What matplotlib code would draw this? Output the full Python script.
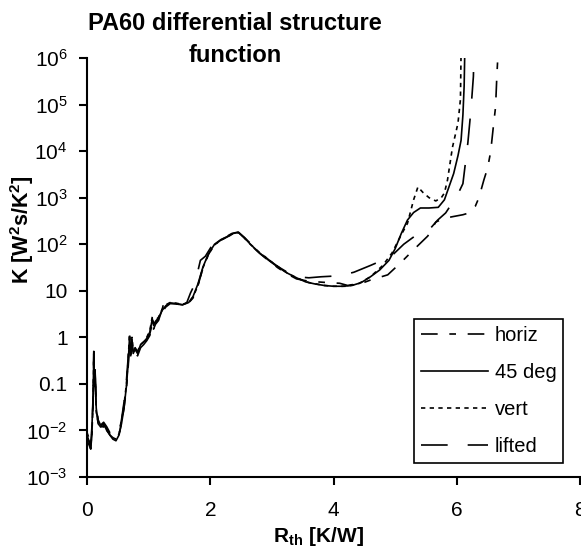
import matplotlib
matplotlib.use("Agg")
import matplotlib.pyplot as plt
from matplotlib.ticker import NullLocator

plt.rcParams['font.family'] = ['Liberation Sans', 'DejaVu Sans']

# horiz (dash-dot)
x_horiz = [0.00, 0.03, 0.06, 0.08, 0.10, 0.11, 0.12, 0.13, 0.15, 0.18, 0.22, 0.27, 0.32, 0.37, 0.42,
           0.47, 0.52, 0.56, 0.60, 0.64, 0.67, 0.69, 0.71, 0.73, 0.75, 0.78, 0.82, 0.87, 0.92, 0.97,
           1.02, 1.06, 1.08, 1.11, 1.16, 1.22, 1.28, 1.35, 1.45, 1.55, 1.65, 1.72, 1.80, 1.88, 1.97,
           2.07, 2.17, 2.27, 2.37, 2.46, 2.55, 2.65, 2.80, 2.95, 3.10, 3.25, 3.40, 3.60, 3.90, 4.10,
           4.23, 4.49, 4.60, 4.88, 5.09, 5.30, 5.53, 5.66, 5.80, 5.93, 6.10, 6.20, 6.30, 6.36, 6.44,
           6.50, 6.55, 6.60, 6.63, 6.65, 6.67]
k_horiz = [0.007, 0.006, 0.004, 0.01, 0.05, 0.3, 0.1, 0.15, 0.03, 0.016, 0.011, 0.013, 0.011, 0.008, 0.007,
           0.0065, 0.008, 0.015, 0.03, 0.08, 0.25, 0.8, 0.35, 0.7, 0.4, 0.6, 0.5, 0.65, 0.75, 0.9,
           1.2, 2.0, 1.6, 2.0, 2.4, 3.5, 4.5, 5.3, 5.2, 5.0, 5.5, 7.0, 13, 30, 60,
           98, 122, 142, 168, 178, 138, 98, 64, 44, 31, 23, 18, 16, 15, 14.5,
           13, 15, 17, 22, 40, 76, 150, 300, 360, 390, 430, 470, 650, 1000, 2400,
           4300, 9600, 40000, 89000, 390000, 1.3e6]

# 45 deg (solid)
x_45 = [0.00, 0.03, 0.06, 0.08, 0.10, 0.11, 0.12, 0.13, 0.15, 0.18, 0.22, 0.27, 0.32, 0.37, 0.42,
        0.47, 0.52, 0.56, 0.60, 0.64, 0.67, 0.69, 0.71, 0.73, 0.75, 0.78, 0.82, 0.87, 0.92, 0.97,
        1.02, 1.06, 1.08, 1.11, 1.16, 1.22, 1.28, 1.35, 1.45, 1.55, 1.65, 1.72, 1.80, 1.88, 1.97,
        2.07, 2.17, 2.27, 2.37, 2.46, 2.55, 2.65, 2.80, 2.95, 3.10, 3.25, 3.40, 3.55, 3.70, 3.85,
        4.00, 4.15, 4.30, 4.45, 4.60, 4.75, 4.90, 5.00, 5.10, 5.20, 5.30, 5.41, 5.55, 5.70, 5.80,
        5.88, 5.95, 6.02, 6.07, 6.10, 6.12, 6.13]
k_45 = [0.008, 0.006, 0.005, 0.012, 0.06, 0.45, 0.12, 0.2, 0.03, 0.014, 0.012, 0.014, 0.01, 0.008, 0.0065,
        0.006, 0.008, 0.014, 0.03, 0.09, 0.3, 1.0, 0.4, 0.9, 0.45, 0.55, 0.45, 0.7, 0.8, 0.95,
        1.3, 2.5, 1.8, 2.2, 2.6, 3.8, 4.8, 5.5, 5.3, 5.0, 5.6, 7.5, 14, 32, 62,
        100, 125, 145, 170, 180, 140, 100, 65, 45, 32, 24, 19, 15.5, 14, 13,
        12.5, 12.5, 13, 15, 20, 28, 45, 80, 170, 330, 480, 600, 600, 620, 900,
        1800, 3300, 8000, 17000, 60000, 250000, 1.3e6]

# vert (short dashes)
x_vert = [0.00, 0.03, 0.06, 0.08, 0.10, 0.11, 0.12, 0.13, 0.15, 0.18, 0.22, 0.27, 0.32, 0.37, 0.42,
          0.47, 0.52, 0.56, 0.60, 0.64, 0.67, 0.69, 0.71, 0.73, 0.75, 0.78, 0.82, 0.87, 0.92, 0.97,
          1.02, 1.06, 1.08, 1.11, 1.16, 1.22, 1.28, 1.35, 1.45, 1.55, 1.65, 1.72, 1.80, 1.88, 1.97,
          2.07, 2.17, 2.27, 2.37, 2.46, 2.55, 2.65, 2.80, 2.95, 3.10, 3.25, 3.40, 3.60, 3.85, 4.00,
          4.20, 4.40, 4.60, 4.80, 4.95, 5.10, 5.20, 5.30, 5.37, 5.45, 5.55, 5.66, 5.75, 5.80, 5.85,
          5.93, 6.02, 6.06, 6.07]
k_vert = [0.009, 0.007, 0.0045, 0.009, 0.04, 0.35, 0.09, 0.18, 0.025, 0.015, 0.012, 0.012, 0.01, 0.0085, 0.007,
          0.0065, 0.0085, 0.016, 0.035, 0.1, 0.35, 1.2, 0.5, 1.0, 0.5, 0.6, 0.5, 0.7, 0.8, 1.0,
          1.4, 2.8, 2.0, 2.3, 2.7, 4.0, 5.0, 5.6, 5.4, 5.1, 5.6, 7.3, 13, 31, 60,
          97, 122, 143, 168, 178, 140, 100, 66, 46, 33, 24, 19, 15, 13, 12.5,
          12.5, 14, 20, 35, 65, 160, 280, 900, 1700, 1300, 1000, 850, 1000, 1260, 2400,
          12000, 40000, 130000, 1.3e6]

# lifted (long dashes)
x_lifted = [0.00, 0.03, 0.06, 0.08, 0.10, 0.11, 0.12, 0.13, 0.15, 0.18, 0.22, 0.27, 0.32, 0.37, 0.42,
            0.47, 0.52, 0.56, 0.60, 0.64, 0.67, 0.69, 0.71, 0.73, 0.75, 0.78, 0.82, 0.87, 0.92, 0.97,
            1.02, 1.06, 1.08, 1.11, 1.16, 1.22, 1.26, 1.30, 1.35, 1.45, 1.55, 1.62, 1.68, 1.75, 1.84,
            1.92, 2.02, 2.12, 2.24, 2.35, 2.45, 2.55, 2.65, 2.80, 2.95, 3.10, 3.25, 3.40, 3.60, 3.80,
            4.10, 4.33, 4.60, 4.93, 5.14, 5.35, 5.58, 5.69, 5.82, 5.93, 6.02, 6.10, 6.18, 6.23, 6.27,
            6.28]
k_lifted = [0.006, 0.005, 0.004, 0.008, 0.05, 0.5, 0.15, 0.22, 0.035, 0.017, 0.013, 0.015, 0.012, 0.009, 0.0075,
            0.007, 0.009, 0.017, 0.04, 0.12, 0.4, 1.1, 0.45, 0.8, 0.45, 0.5, 0.4, 0.6, 0.7, 0.85,
            1.1, 2.2, 1.5, 1.9, 2.3, 4.0, 6.5, 7.0, 5.8, 5.2, 5.0, 5.6, 9, 14, 45,
            55, 90, 110, 140, 170, 182, 140, 105, 68, 46, 33, 25, 20, 19, 20,
            21, 25, 35, 54, 100, 160, 225, 330, 470, 780, 1200, 2000, 15000, 76000, 400000,
            1.3e6]

labels = ['horiz', '45 deg', 'vert', 'lifted']
y_ticks = [1e-3, 1e-2, 0.1, 1, 10, 1e2, 1e3, 1e4, 1e5, 1e6]
y_tick_labels = [r'$\mathregular{10^{-3}}$', r'$\mathregular{10^{-2}}$', '0.1', '1', '10',
                 r'$\mathregular{10^{2}}$', r'$\mathregular{10^{3}}$', r'$\mathregular{10^{4}}$',
                 r'$\mathregular{10^{5}}$', r'$\mathregular{10^{6}}$']
x_ticks = [0, 2, 4, 6, 8]

fig = plt.figure(figsize=(5.81, 5.48), dpi=100)
ax = fig.add_axes([87 / 581, 1 - 477 / 548, 493 / 581, 419 / 548])

lw = 1.2
ax.plot(x_horiz, k_horiz, color='black', lw=lw, dashes=(10, 7, 4, 7), label=labels[0])
ax.plot(x_45, k_45, color='black', lw=lw, linestyle='-', label=labels[1])
ax.plot(x_vert, k_vert, color='black', lw=lw, dashes=(2.6, 2.6), label=labels[2])
ax.plot(x_lifted, k_lifted, color='black', lw=lw, dashes=(16, 12), label=labels[3])

ax.set_yscale('log')
ax.set_ylim(1e-3, 1e6)
ax.set_xlim(0, 8)
ax.set_yticks(y_ticks)
ax.set_yticklabels(y_tick_labels)
ax.yaxis.set_minor_locator(NullLocator())
ax.set_xticks(x_ticks)
ax.set_xticklabels([str(v) for v in x_ticks])

for s in ['top', 'right']:
    ax.spines[s].set_visible(False)
for s in ['left', 'bottom']:
    ax.spines[s].set_linewidth(1.5)
ax.tick_params(axis='both', direction='out', length=6, width=1.5, labelsize=15)
ax.tick_params(axis='x', pad=11)
ax.tick_params(axis='y', pad=8)

# title drawn as two centred lines
fig.text(235 / 581, 1 - 23 / 548, 'PA60 differential structure', ha='center', va='center',
         fontsize=17, fontweight='bold')
fig.text(235 / 581, 1 - 55 / 548, 'function', ha='center', va='center',
         fontsize=17, fontweight='bold')
fig.text(318 / 581, 1 - 537 / 548, r'R$_{\mathregular{th}}$ [K/W]', ha='center', va='center',
         fontsize=15, fontweight='bold')
fig.text(22 / 581, 1 - 230 / 548, r'K [W$\mathregular{^{2}}$s/K$\mathregular{^{2}}$]', ha='center',
         va='center', rotation=90, fontsize=15.5, fontweight='bold')

leg = ax.legend(loc='upper left', bbox_to_anchor=(414 / 581, 1 - 319 / 548), bbox_transform=fig.transFigure,
                fontsize=14.5, handlelength=3.3, handletextpad=0.35, labelspacing=0.9, borderpad=0.35,
                fancybox=False, framealpha=1, borderaxespad=0)
leg.get_frame().set_edgecolor('black')
leg.get_frame().set_linewidth(1.2)

fig.savefig('out.png', dpi=100)
